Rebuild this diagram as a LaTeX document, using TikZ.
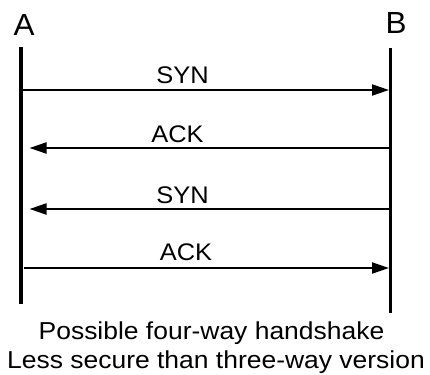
\documentclass[tikz,border=0pt]{standalone}
\usepackage{fontspec}
\setmainfont{Liberation Sans}
\usetikzlibrary{arrows.meta}
\begin{document}
\begin{tikzpicture}[x=1pt,y=-1pt,
  lifeline/.style={line width=3.5pt},
  msg/.style={line width=2pt,-{Triangle[length=17pt,width=11pt]}},
  lbl/.style={font=\fontsize{24}{28}\selectfont, inner sep=0pt, anchor=base},
  captext/.style={font=\fontsize{24.5}{28}\selectfont, inner sep=0pt, anchor=base},
  hdr/.style={font=\fontsize{30.5}{34}\selectfont, inner sep=0pt, anchor=base}]
\useasboundingbox (0,0) rectangle (430,374);
% lifelines
\coordinate (Atop) at (21,47);
\coordinate (Abot) at (21,304);
\coordinate (Btop) at (390.5,48);
\coordinate (Bbot) at (390.5,313);
\draw[lifeline] (Atop) -- (Abot);
\draw[lifeline] (Btop) -- (Bbot);
\node[hdr] (A) at (24,36) {\scalebox{1.03}[1]{A}};
\node[hdr] (B) at (396,33.3) {\scalebox{1.03}[1]{B}};
% message endpoints
\coordinate (a1) at (22.5,90);  \coordinate (b1) at (389,90);
\coordinate (a2) at (29.5,148); \coordinate (b2) at (389,148);
\coordinate (a3) at (29.5,209); \coordinate (b3) at (389,209);
\coordinate (a4) at (24,268);   \coordinate (b4) at (389,268);
\draw[msg] (a1) -- (b1);
\draw[msg] (b2) -- (a2);
\draw[msg] (b3) -- (a3);
\draw[msg] (a4) -- (b4);
\node[lbl] (l1) at (182.5,83.3) {\scalebox{1.06}[1]{SYN}};
\node[lbl] (l2) at (177.5,142.7) {\scalebox{1.06}[1]{ACK}};
\node[lbl] (l3) at (182.5,203.3) {\scalebox{1.06}[1]{SYN}};
\node[lbl] (l4) at (186,260) {\scalebox{1.06}[1]{ACK}};
\node[captext] (c1) at (211.5,339.5) {\scalebox{1.08}[1]{Possible four-way handshake}};
\node[captext] (c2) at (216,368.6) {\scalebox{1.08}[1]{Less secure than three-way version}};
\end{tikzpicture}
\end{document}
